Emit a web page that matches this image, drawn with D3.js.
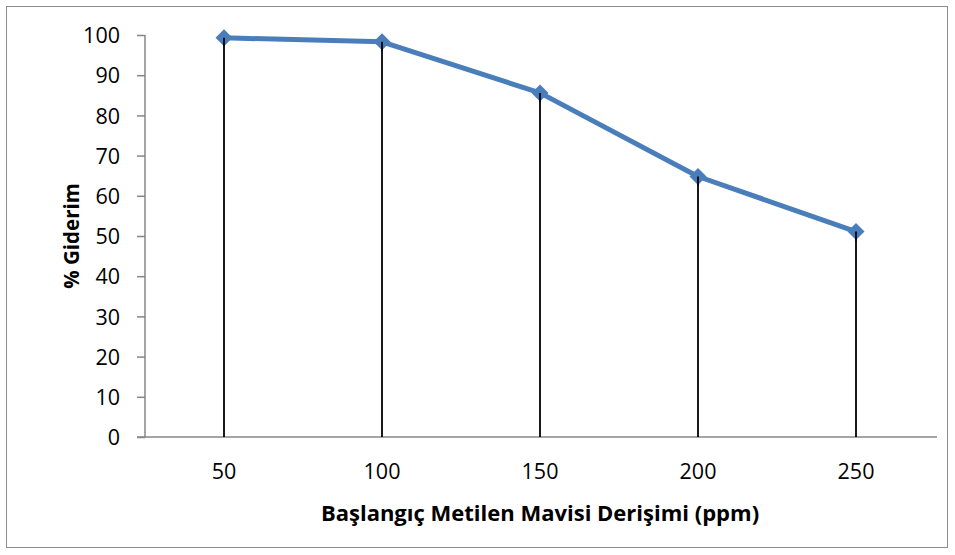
<!DOCTYPE html>
<html><head><meta charset="utf-8">
<script src="https://cdn.jsdelivr.net/npm/d3@7"></script>
<style>body{margin:0;background:#fff}svg{display:block}</style>
</head><body><svg id="c" width="955" height="555"></svg>
<script>
const categories = ["50","100","150","200","250"];
const values = [99.3, 98.3, 85.6, 64.8, 51.1];
const yTicks = [0,10,20,30,40,50,60,70,80,90,100];
const xTitle = "Başlangıç Metilen Mavisi Derişimi (ppm)";
const yTitle = "% Giderim";

const svg = d3.select("#c");
const font = "'Open Sans', sans-serif";
svg.append("rect").attr("x",6.5).attr("y",6.5).attr("width",941).attr("height",541)
  .attr("fill","#fff").attr("stroke","#8c8c8c").attr("stroke-width",1);

const L=145, R=935, T=35, B=437;
const x = d3.scaleBand().domain(categories).range([L,R]);
const y = d3.scaleLinear().domain([0,100]).range([B,T]);

// y axis
const ya = svg.append("g").attr("transform",`translate(${L},0)`)
  .call(d3.axisLeft(y).tickValues(yTicks).tickSize(8).tickPadding(17));
ya.select(".domain").attr("stroke","#868686").attr("stroke-width",1.5).attr("d",`M0,${T}V${B}`);
ya.selectAll(".tick line").attr("stroke","#868686").attr("stroke-width",1.5);
ya.selectAll("text").attr("font-family",font).attr("font-size",21.5).attr("fill","#000").attr("dy","0.36em");

// x axis
const xa = svg.append("g").attr("transform",`translate(0,${B})`)
  .call(d3.axisBottom(x).tickSize(0).tickPadding(0));
xa.select(".domain").attr("stroke","#868686").attr("stroke-width",1.5).attr("d",`M${L-8},0H${R+2}`);
xa.selectAll("text").attr("font-family",font).attr("font-size",21.5).attr("fill","#000")
  .attr("dy",null).attr("y",42);

const cx = d => x(d)+x.bandwidth()/2;
// drop lines
svg.append("g").selectAll("line").data(categories).join("line")
  .attr("x1",d=>cx(d)).attr("x2",d=>cx(d))
  .attr("y1",(d,i)=>y(values[i])).attr("y2",B)
  .attr("stroke","#000").attr("stroke-width",1.8);

// line
svg.append("path").datum(values)
  .attr("d", d3.line().x((v,i)=>cx(categories[i])).y(v=>y(v)))
  .attr("fill","none").attr("stroke","#4A7EBB").attr("stroke-width",5).attr("stroke-linejoin","round");

// markers
svg.append("g").selectAll("path").data(values).join("path")
  .attr("transform",(v,i)=>`translate(${cx(categories[i])},${y(v)})`)
  .attr("d","M0,-8.5L8.5,0L0,8.5L-8.5,0Z").attr("fill","#4A7EBB");

// drop line tops over markers (as in reference)
svg.append("g").selectAll("line").data(categories).join("line")
  .attr("x1",d=>cx(d)).attr("x2",d=>cx(d))
  .attr("y1",(d,i)=>y(values[i])).attr("y2",(d,i)=>y(values[i])+9)
  .attr("stroke","#000").attr("stroke-width",1.8);

svg.append("text").attr("x",540).attr("y",521).attr("text-anchor","middle")
  .attr("font-family",font).attr("font-weight","bold").attr("font-size",22).text(xTitle);
svg.append("text").attr("transform","translate(79,236) rotate(-90)").attr("text-anchor","middle")
  .attr("font-family",font).attr("font-weight","bold").attr("font-size",20.5).text(yTitle);
</script></body></html>
